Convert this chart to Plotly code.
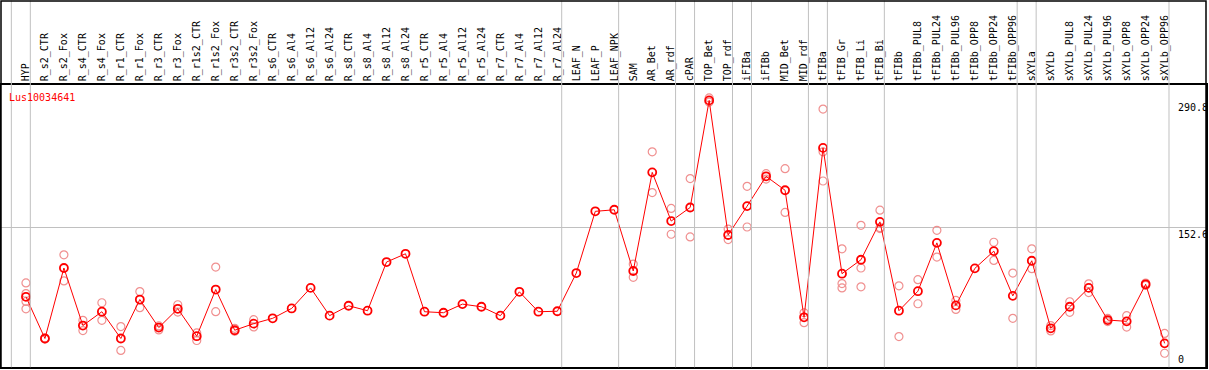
import plotly.graph_objects as go

categories = [
    "HYP", "R_s2_CTR", "R_s2_Fox", "R_s4_CTR", "R_s4_Fox", "R_r1_CTR", "R_r1_Fox",
    "R_r3_CTR", "R_r3_Fox", "R_r1s2_CTR", "R_r1s2_Fox", "R_r3s2_CTR", "R_r3s2_Fox",
    "R_s6_CTR", "R_s6_Al4", "R_s6_Al12", "R_s6_Al24", "R_s8_CTR", "R_s8_Al4",
    "R_s8_Al12", "R_s8_Al24", "R_r5_CTR", "R_r5_Al4", "R_r5_Al12", "R_r5_Al24",
    "R_r7_CTR", "R_r7_Al4", "R_r7_Al12", "R_r7_Al24", "LEAF_N", "LEAF_P", "LEAF_NPK",
    "SAM", "AR_Bet", "AR_rdf", "cPAR", "TOP_Bet", "TOP_rdf", "iFIBa", "iFIBb",
    "MID_Bet", "MID_rdf", "tFIBa", "tFIB_Gr", "tFIB_Li", "tFIB_Bi", "tFIBb",
    "tFIBb_PUL8", "tFIBb_PUL24", "tFIBb_PUL96", "tFIBb_OPP8", "tFIBb_OPP24",
    "tFIBb_OPP96", "sXYLa", "sXYLb", "sXYLb_PUL8", "sXYLb_PUL24", "sXYLb_PUL96",
    "sXYLb_OPP8", "sXYLb_OPP24", "sXYLb_OPP96",
]

means = [
    76.6, 31.1, 108.0, 45.2, 60.3, 31.1, 73.6, 43.0, 63.5, 33.6,
    84.5, 40.1, 47.3, 53.1, 63.9, 86.3, 56.0, 66.8, 61.4, 114.5,
    123.5, 60.3, 59.2, 68.6, 65.7, 56.0, 82.0, 60.3, 60.8, 102.5,
    169.8, 171.5, 104.7, 212.3, 159.2, 174.0, 290.8, 144.0, 175.5, 208.0,
    192.8, 54.2, 239.0, 101.8, 117.0, 158.3, 61.4, 82.7, 135.4, 67.2,
    107.6, 126.4, 77.6, 115.9, 42.2, 65.7, 86.3, 51.2, 49.8, 90.2, 25.8,
]

replicates = [
    [91.7, 80.1, 71.5, 63.5], [31.5, 30.5], [122.4, 93.9], [50.9, 39.7],
    [70.1, 50.9], [44.1, 18.1], [82.3, 64.7], [44.8, 40.4], [67.9, 59.9],
    [37.2, 28.9], [109.0, 60.3], [42.2, 39.0], [51.6, 43.7],
    [], [], [], [], [], [], [], [], [], [], [], [], [], [], [], [],
    [], [], [],
    [112.3, 97.8], [234.7, 190.3], [173.0, 144.8], [205.5, 141.9],
    [293.5, 289.0], [150.5, 139.0], [197.1, 152.7], [210.9, 205.0],
    [216.3, 168.6], [59.2, 48.4], [281.3, 234.7, 202.9],
    [128.9, 91.0, 86.3], [154.5, 108.0, 87.4], [171.1, 152.0, 151.0],
    [88.5, 33.2], [95.3, 69.0], [149.1, 119.9], [72.6, 62.8], [],
    [136.1, 116.2], [102.5, 53.1], [128.9, 107.2], [45.2, 39.3],
    [71.2, 59.6], [90.7, 81.2], [53.0, 49.5], [56.0, 43.5], [91.5, 89.0],
    [36.6, 15.0],
]

group_ends = [-1, 0, 28, 31, 34, 35, 37, 38, 41, 42, 45, 52, 53, 60]
y_marks = [290.8, 152.6, 0]
gene_id = "Lus10034641"

W, H = 1209, 370
TOP, BOT = 85, 1
PLOT_H = H - TOP - BOT
PLOT_W = W - 2
YMAX = 307.6
MONO = "DejaVu Sans Mono"

idx = list(range(len(categories)))
rx, ry = [], []
for i, vals in enumerate(replicates):
    for v in vals:
        rx.append(i)
        ry.append(v)

fig = go.Figure()
fig.add_trace(go.Scatter(
    x=rx, y=ry, mode="markers", hoverinfo="skip",
    marker=dict(symbol="circle-open", size=8, color="#f09090", line=dict(width=1.2)),
))
fig.add_trace(go.Scatter(
    x=idx, y=means, mode="lines+markers",
    line=dict(color="#ff0000", width=1),
    marker=dict(symbol="circle-open", size=8, color="#ff0000", line=dict(width=1.8)),
))

top_paper = 1 + TOP / PLOT_H
shapes = []
for g in group_ends:
    shapes.append(dict(type="line", xref="x", yref="paper", x0=g + 0.23, x1=g + 0.23,
                       y0=-BOT / PLOT_H, y1=top_paper, line=dict(color="#c0c0c0", width=1)))
shapes.append(dict(type="rect", xref="paper", yref="paper", x0=0, x1=1,
                   y0=-BOT / PLOT_H, y1=top_paper - 0.5 / PLOT_H,
                   line=dict(color="#000000", width=1.5)))

annotations = [dict(xref="paper", yref="paper", x=0, y=1, xanchor="left", yanchor="top",
                    xshift=6, yshift=-5, text=gene_id, showarrow=False,
                    font=dict(family=MONO, size=10, color="#ff0000"))]
label_x = (1177.5 - 1) / PLOT_W
for v in y_marks:
    annotations.append(dict(xref="paper", yref="y", x=label_x, y=v, xanchor="left",
                            yanchor="bottom" if v == 0 else "top",
                            text=f"{v:g}", showarrow=False,
                            font=dict(family=MONO, size=10, color="#000000")))

fig.update_layout(
    width=W, height=H, margin=dict(l=1, r=1, t=TOP, b=BOT),
    paper_bgcolor="white", plot_bgcolor="white", showlegend=False,
    shapes=shapes, annotations=annotations,
    xaxis=dict(range=[-1.315, 62.18], side="top", tickmode="array", tickvals=idx,
               ticktext=categories, tickangle=-90, ticks="", showgrid=False,
               zeroline=False, showline=True, linecolor="#000000", linewidth=1.5,
               mirror=True, tickfont=dict(family=MONO, size=10, color="#000000")),
    yaxis=dict(range=[0, YMAX], tickmode="array", tickvals=[152.6], showticklabels=False,
               showgrid=True, gridcolor="#c0c0c0", gridwidth=1, zeroline=False,
               showline=True, linecolor="#000000", linewidth=1.5, mirror=True),
)

fig.write_html("out.html", config={"displayModeBar": False},
               post_script="document.body.style.margin='0';")
